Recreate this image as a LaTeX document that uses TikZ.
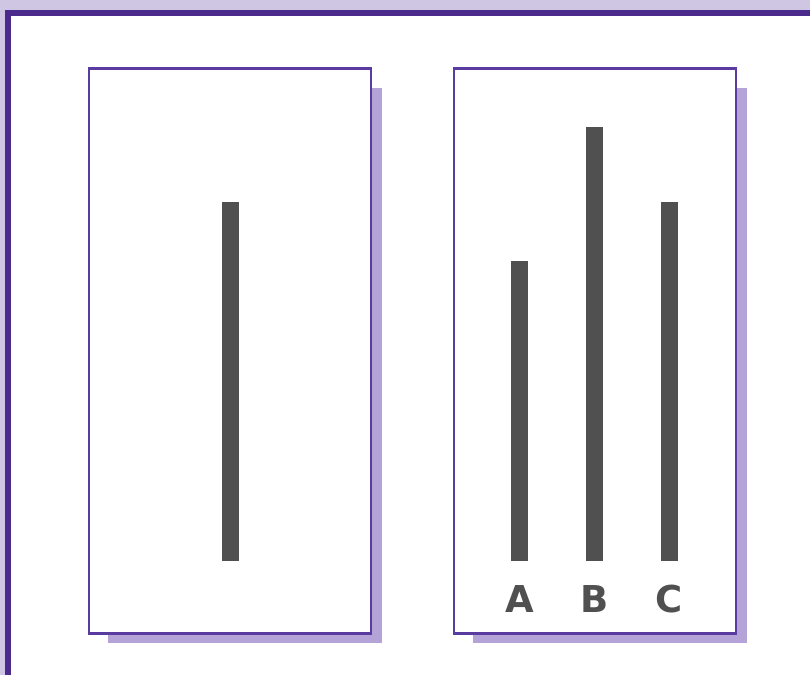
\documentclass[tikz,border=0pt]{standalone}
\usepackage{fontspec}
\setmainfont{DejaVu Sans}
\definecolor{bandc}{HTML}{CFC6E3}
\definecolor{framec}{HTML}{4A2A8C}
\definecolor{panelc}{HTML}{5A3BA0}
\definecolor{shadowc}{HTML}{B3A3D6}
\definecolor{barc}{HTML}{505050}
\begin{document}
\begin{tikzpicture}[x=1pt,y=-1pt,
  panel/.style={draw=panelc,line width=2.8pt,fill=white},
  shadowbox/.style={fill=shadowc,draw=none},
  bar/.style={fill=barc,draw=none},
  letter/.style={text=barc,font=\fontsize{37}{37}\selectfont\bfseries,inner sep=0pt}]
\useasboundingbox (0,0) rectangle (810,675);
\fill[white] (0,0) rectangle (810,675);
% top/left band
\fill[bandc] (0,0) rectangle (810,10);
\fill[bandc] (0,0) rectangle (5,675);
% dark frame
\fill[framec] (5,10) rectangle (810,16);
\fill[framec] (5,10) rectangle (11,675);
% shadows
\fill[shadowbox] (108,88) rectangle (382,643);
\fill[shadowbox] (473,88) rectangle (747,643);
% panels
\node[panel,minimum width=282pt,minimum height=565pt,inner sep=0pt] (p1) at (230,351) {};
\node[panel,minimum width=282pt,minimum height=565pt,inner sep=0pt] (p2) at (595,351) {};
% bars
\fill[bar] (222,202) rectangle (239,561);
\fill[bar] (511,261) rectangle (528,561);
\fill[bar] (586,127) rectangle (603,561);
\fill[bar] (661,202) rectangle (678,561);
% letters
\node[letter] (a) at (519.5,599) {A};
\node[letter] (b) at (594.5,599) {B};
\node[letter] (c) at (669.5,599) {C};
\end{tikzpicture}
\end{document}
